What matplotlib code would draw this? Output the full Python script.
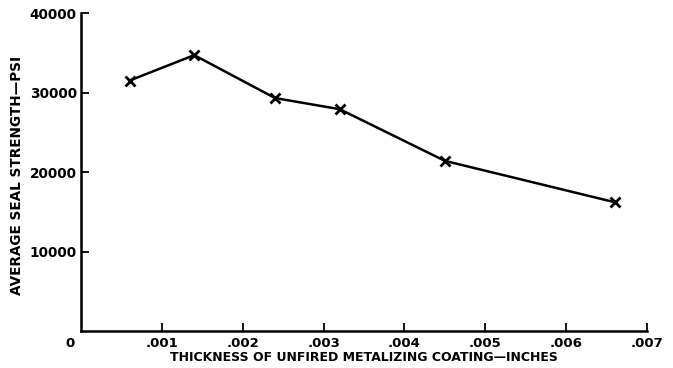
import matplotlib
matplotlib.use("Agg")
import matplotlib.pyplot as plt

thickness = [0.0006, 0.0014, 0.0024, 0.0032, 0.0045, 0.0066]
strength = [31500, 34700, 29300, 27900, 21400, 16200]
xticks = [0.001, 0.002, 0.003, 0.004, 0.005, 0.006, 0.007]
xtick_labels = [".001", ".002", ".003", ".004", ".005", ".006", ".007"]
yticks = [10000, 20000, 30000, 40000]
ytick_labels = ["10000", "20000", "30000", "40000"]

plt.rcParams['font.family'] = ['DejaVu Sans']
plt.rcParams['font.weight'] = 'bold'

fig = plt.figure(figsize=(6.73, 3.68), dpi=100)
ax = fig.add_axes([81/673, 1-331/368, (647-81)/673, (331-13)/368])

ax.plot(thickness, strength, color='black', lw=1.8, marker='x', ms=6.5, mew=2)

ax.set_xlim(0, 0.007)
ax.set_ylim(0, 40000)
ax.set_xticks(xticks)
ax.set_xticklabels(xtick_labels, fontsize=9.5, fontweight='bold')
ax.set_yticks(yticks)
ax.set_yticklabels(ytick_labels, fontsize=9.8, fontweight='bold')
ax.tick_params(axis='x', direction='in', length=6, width=1.3, pad=4)
ax.tick_params(axis='y', direction='in', length=6, width=1.3, pad=3)
for s in ['top', 'right']:
    ax.spines[s].set_visible(False)
for s in ['left', 'bottom']:
    ax.spines[s].set_linewidth(1.8)

ax.text(-0.00013, -0.02, "0", transform=ax.get_xaxis_transform(), ha='center', va='top',
        fontsize=9.5, fontweight='bold')

ax.set_xlabel("THICKNESS OF UNFIRED METALIZING COATING\u2014INCHES", fontsize=9, fontweight='bold', labelpad=1)
ax.set_ylabel("AVERAGE SEAL STRENGTH\u2014PSI", fontsize=9.8, fontweight='bold', labelpad=5)
ax.yaxis.set_label_coords(-0.100, 0.49)

fig.savefig("out.png", dpi=100)
